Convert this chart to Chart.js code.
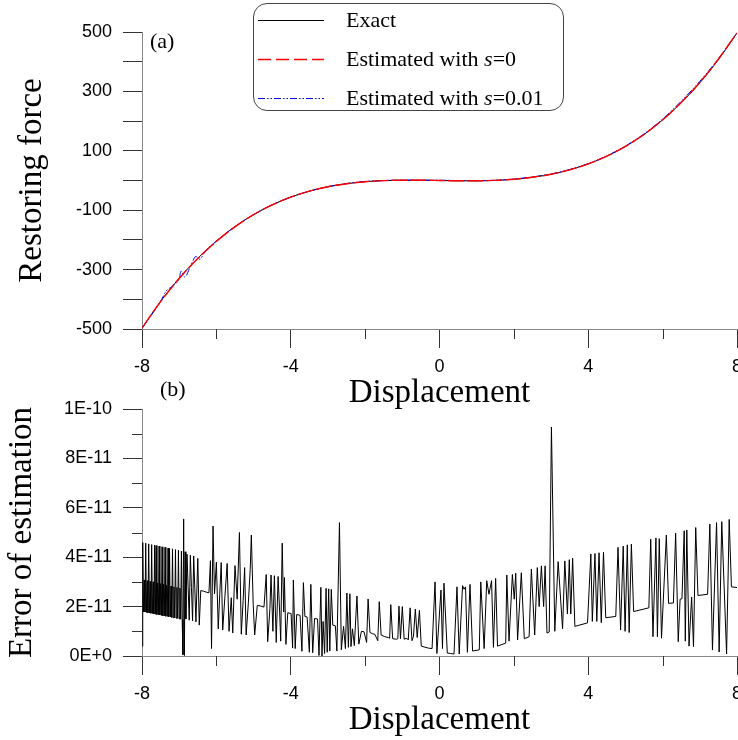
<!DOCTYPE html>
<html>
<head>
<meta charset="utf-8">
<script src="https://cdn.jsdelivr.net/npm/chart.js@4.4.1/dist/chart.umd.min.js"></script>
<style>
  body { margin: 0; background: #fff; }
  #wrap { position: relative; width: 738px; height: 740px; overflow: hidden; background: #fff; }
  canvas { position: absolute; left: 0; }
  .tag { position: absolute; font-family: "Liberation Serif", serif; font-size: 22px; color: #000; }
  #legend { position: absolute; left: 253px; top: 3px; width: 309px; height: 106px;
            border: 1px solid #444; border-radius: 14px; background: #fff;
            font-family: "Liberation Serif", serif; font-size: 22px; color: #000; }
  .row { position: absolute; left: 0; height: 24px; width: 305px; }
  .row svg { position: absolute; left: 4px; top: 11px; }
  .row span { position: absolute; left: 92px; top: 0; line-height: 24px; white-space: nowrap; }
</style>
</head>
<body>
<div id="wrap">
  <canvas id="forceChart" width="738" height="412" style="top:0"></canvas>
  <canvas id="errorChart" width="738" height="360" style="top:380px"></canvas>
  <div class="tag" style="left:150px;top:28px">(a)</div>
  <div class="tag" style="left:160px;top:376px">(b)</div>
  <div id="legend">
    <div class="row" style="top:4px">
      <svg width="66" height="3"><line x1="0" y1="1.5" x2="66" y2="1.5" stroke="#000" stroke-width="1"/></svg>
      <span>Exact</span>
    </div>
    <div class="row" style="top:43px">
      <svg width="66" height="3"><line x1="0" y1="1.5" x2="66" y2="1.5" stroke="#ff0000" stroke-width="1.3" stroke-dasharray="13 5"/></svg>
      <span>Estimated with <i>s</i>=0</span>
    </div>
    <div class="row" style="top:82px">
      <svg width="66" height="3"><line x1="0" y1="1.5" x2="66" y2="1.5" stroke="#0000ff" stroke-width="1" stroke-dasharray="7 2 1.5 2 1.5 2"/></svg>
      <span>Estimated with <i>s</i>=0.01</span>
    </div>
  </div>
</div>
<script>
// panel (a): restoring force vs displacement
const dispX = [-8, -7.5, -7, -6.5, -6, -5.5, -5, -4.5, -4, -3.5, -3, -2.5, -2, -1.5, -1, -0.5,
               0, 0.5, 1, 1.5, 2, 2.5, 3, 3.5, 4, 4.5, 5, 5.5, 6, 6.5, 7, 7.5, 8]
const exactForce = [-497, -407, -329, -262, -204, -155, -115, -82, -56, -36, -21, -11, -4, -0.4, 1, 1,
                    0, -1, -1, 0.4, 4, 11, 21, 36, 56, 82, 115, 155, 204, 262, 329, 407, 497]
const estForceS0 = [-497, -408, -330, -263, -205, -156, -115, -82, -56, -36, -21, -11, -4, -0.5, 1, 1,
                    0, -1, -1, 0.5, 4, 11, 21, 36, 56, 82, 115, 155, 204, 263, 330, 409, 497]
const estX001 = [-8, -7.5, -7.35, -7.2, -7, -6.95, -6.85, -6.7, -6.55, -6.45, -6.3, -6, -5.5, -5, -4.5,
                 -4, -3.5, -3, -2.5, -2, -1.5, -1, -0.5, 0, 0.5, 1, 1.5, 2, 2.5, 3, 3.5, 4, 4.5, 5,
                 5.5, 6, 6.5, 7, 7.5, 8]
const estForceS001 = [-497, -407, -372, -357, -330, -305, -325, -290, -256, -265, -238, -204, -155, -115, -82,
                      -56, -36, -21, -10, -3, 0, 1, 1, 1, 0, -1, 1, 5, 12, 22, 37, 57, 83, 116,
                      157, 207, 267, 334, 410, 497]
const forceTicksMinorX = [-6, -2, 2, 6]

// panel (b): error of estimation, values in units of 1E-11
const errX = [
  -8.00, -7.98, -7.96, -7.94, -7.92, -7.90, -7.88, -7.86, -7.84, -7.82,
  -7.80, -7.78, -7.76, -7.74, -7.72, -7.70, -7.68, -7.66, -7.64, -7.62,
  -7.60, -7.58, -7.56, -7.54, -7.52, -7.50, -7.48, -7.46, -7.44, -7.42,
  -7.40, -7.38, -7.36, -7.34, -7.32, -7.30, -7.28, -7.26, -7.24, -7.22,
  -7.20, -7.18, -7.16, -7.14, -7.12, -7.10, -7.08, -7.06, -7.04, -7.02,
  -7.00, -6.98, -6.96, -6.94, -6.92, -6.90, -6.88, -6.86, -6.84, -6.82,
  -6.79, -6.76, -6.73, -6.70, -6.67, -6.64, -6.61, -6.58,
  -6.55, -6.50, -6.46, -6.42, -6.34, -6.26, -6.20, -6.16, -6.13, -6.09,
  -6.05, -6.00, -5.95, -5.91, -5.87, -5.83, -5.77, -5.71, -5.66, -5.60,
  -5.56, -5.50, -5.44, -5.38, -5.33, -5.28, -5.24, -5.20, -5.14, -5.09,
  -5.06, -5.01, -4.97, -4.90, -4.80, -4.72, -4.66, -4.62, -4.56, -4.53,
  -4.48, -4.44, -4.39, -4.34, -4.30, -4.27, -4.23, -4.19, -4.17, -4.13,
  -4.08, -3.99, -3.95, -3.93, -3.88, -3.84, -3.75, -3.70, -3.66, -3.62,
  -3.56, -3.50, -3.46, -3.41, -3.36, -3.28, -3.24, -3.19, -3.16, -3.13,
  -3.09, -3.05, -3.02, -2.98, -2.95, -2.91, -2.87, -2.80, -2.76, -2.69,
  -2.64, -2.58, -2.53, -2.49, -2.45, -2.41, -2.38, -2.34, -2.29, -2.22,
  -2.17, -2.10, -2.03, -1.96, -1.92, -1.87, -1.80, -1.74, -1.66, -1.62,
  -1.57, -1.47, -1.38, -1.34, -1.31, -1.26, -1.16, -1.12, -1.09, -1.05,
  -1.00, -0.95, -0.88, -0.84, -0.79, -0.74, -0.70, -0.65, -0.60, -0.54,
  -0.49, -0.30, -0.20, -0.12, -0.07, 0.04, 0.08, 0.12, 0.21, 0.30,
  0.39, 0.47, 0.53, 0.62, 0.66, 0.70, 0.75, 0.82, 0.89, 1.07,
  1.11, 1.20, 1.27, 1.33, 1.40, 1.45, 1.51, 1.56, 1.78, 1.81,
  1.87, 1.96, 2.01, 2.05, 2.10, 2.20, 2.28, 2.41, 2.47, 2.56,
  2.63, 2.68, 2.74, 2.80, 2.84, 2.89, 2.95, 3.01, 3.10, 3.19,
  3.31, 3.37, 3.44, 3.49, 3.53, 3.58, 3.64, 3.98, 4.07, 4.11,
  4.18, 4.23, 4.29, 4.35, 4.41, 4.47, 4.74, 4.80, 4.87, 4.94,
  4.99, 5.05, 5.10, 5.16, 5.22, 5.63, 5.68, 5.74, 5.82, 5.86,
  5.91, 5.97, 6.10, 6.16, 6.29, 6.35, 6.42, 6.47, 6.52, 6.58,
  6.61, 6.65, 6.71, 6.78, 6.83, 6.89, 6.95, 7.21, 7.27, 7.34,
  7.45, 7.52, 7.59, 7.72, 7.79, 7.85, 8.00
]
const errE11 = [
  0.40, 4.59, 1.79, 3.08, 1.78, 4.57, 1.76, 3.05, 1.75, 4.54,
  1.74, 3.02, 1.73, 4.51, 1.72, 3.00, 1.70, 4.49, 1.69, 4.47,
  1.68, 2.96, 1.67, 4.45, 1.66, 2.93, 1.64, 4.42, 1.63, 2.90,
  1.62, 4.40, 1.61, 2.87, 1.60, 4.37, 1.59, 4.36, 1.58, 2.83,
  1.56, 4.34, 1.55, 2.80, 1.54, 4.31, 1.53, 2.78, 1.52, 4.28,
  1.50, 2.75, 1.49, 4.25, 1.48, 0.05, 5.55, 0.02, 4.22, 1.50,
  4.12, 2.80, 1.45, 4.08, 2.77, 1.42, 4.05, 2.74,
  1.38, 3.95, 1.25, 2.65, 2.62, 2.58, 2.56, 3.86, 0.30, 5.26,
  2.52, 3.80, 1.10, 2.48, 3.78, 1.05, 2.42, 3.75, 1.00, 2.36,
  0.93, 3.66, 2.30, 5.00, 0.88, 2.25, 3.58, 0.85, 2.15, 3.50,
  4.90, 2.10, 0.85, 2.05, 2.02, 1.98, 3.30, 0.58, 1.93, 3.28,
  1.00, 3.25, 0.55, 3.22, 1.82, 0.60, 4.57, 1.78, 3.18, 0.47,
  1.75, 1.72, 0.32, 3.08, 0.30, 1.68, 1.65, 0.19, 2.97, 1.60,
  1.58, 0.15, 2.90, 0.13, 1.52, 1.50, 0.02, 2.78, 0.00, 1.40,
  0.10, 2.74, 0.15, 2.72, 0.20, 2.70, 1.25, 1.22, 0.20, 5.40,
  0.25, 1.20, 0.30, 2.55, 0.35, 2.52, 0.38, 1.10, 0.42, 2.43,
  0.48, 1.00, 0.98, 0.55, 2.31, 0.95, 0.90, 0.88, 0.62, 2.20,
  0.85, 0.78, 0.75, 0.72, 2.08, 0.70, 0.68, 0.70, 2.02, 0.70,
  2.00, 0.68, 0.72, 0.65, 1.95, 0.62, 0.80, 1.90, 0.75, 1.85,
  0.40, 0.32, 0.30, 3.00, 0.10, 2.67, 0.30, 2.95, 0.12, 0.10,
  0.08, 2.80, 0.08, 2.85, 2.70, 2.80, 0.15, 2.90, 0.20, 0.25,
  3.00, 0.30, 3.05, 2.50, 3.05, 0.35, 3.14, 0.40, 0.52, 3.28,
  0.60, 3.30, 2.30, 3.35, 0.65, 3.37, 0.70, 0.78, 3.52, 0.85,
  3.58, 2.00, 3.65, 2.00, 3.65, 0.93, 0.97, 9.27, 1.00, 3.82,
  1.10, 3.85, 1.70, 3.90, 1.70, 3.96, 1.20, 1.34, 4.13, 1.40,
  4.15, 1.40, 4.18, 1.35, 4.20, 1.55, 1.60, 4.40, 1.05, 4.45,
  1.00, 4.50, 0.95, 4.53, 1.80, 1.95, 4.73, 0.78, 4.78, 0.78,
  4.75, 0.72, 4.90, 2.13, 2.15, 4.97, 0.58, 2.30, 2.32, 5.07,
  0.60, 5.10, 0.40, 2.39, 0.38, 5.20, 2.45, 2.50, 5.34, 0.24,
  5.40, 0.16, 5.44, 0.08, 5.53, 2.80, 2.77
]
const errTicksMinorX = [-6, -2, 2, 6]
const errTicksMinorY = [1, 3, 5, 7, 9]

const tickFont = { family: "'Liberation Sans', Arial, sans-serif", size: 18 }
const titleFont = { family: "'Liberation Serif', 'Times New Roman', serif", size: 33, lineHeight: 1 }
const axisColor = '#888'
const tickColor = '#333'

// short minor ticks drawn through the chart's own scales
const minorTicks = {
  id: 'minorTicks',
  afterDraw(chart, args, opts) {
    const ctx = chart.ctx
    const xs = chart.scales.x, ys = chart.scales.y
    ctx.save()
    ctx.strokeStyle = tickColor
    ctx.lineWidth = 1
    ctx.beginPath()
    ;(opts.x || []).forEach(v => {
      const px = Math.round(xs.getPixelForValue(v)) + 0.5
      ctx.moveTo(px, xs.top)
      ctx.lineTo(px, xs.top + opts.xLen)
    })
    ;(opts.y || []).forEach(v => {
      const py = Math.round(ys.getPixelForValue(v)) + 0.5
      ctx.moveTo(ys.right, py)
      ctx.lineTo(ys.right - opts.yLen, py)
    })
    ctx.stroke()
    ctx.restore()
  }
}

function xAxis(boxHeight, titlePad) {
  return {
    type: 'linear', min: -8, max: 8,
    ticks: { stepSize: 4, color: '#000', font: tickFont, padding: 8, maxRotation: 0, autoSkip: false },
    grid: { drawOnChartArea: false, tickLength: 19, color: tickColor },
    border: { color: axisColor },
    title: { display: true, text: 'Displacement', color: '#000', font: titleFont, padding: { top: 0, bottom: titlePad } },
    afterFit: s => { s.height = boxHeight; s.paddingLeft = 0; s.paddingRight = 0 }
  }
}

function yAxis(title, titlePad) {
  return {
    ticks: { color: '#000', font: tickFont, padding: 11, autoSkip: false },
    grid: { drawOnChartArea: false, tickLength: 19, color: tickColor },
    border: { color: axisColor },
    title: { display: true, text: title, color: '#000', font: titleFont, padding: { top: titlePad, bottom: 0 } },
    afterFit: s => { s.width = 142; s.paddingTop = 0; s.paddingBottom = 0 }
  }
}

const forceY = yAxis('Restoring force', 16)
forceY.min = -500
forceY.max = 500
forceY.ticks.stepSize = 100
forceY.ticks.callback = v => Math.abs(v) % 200 === 100 ? String(v) : ''

new Chart(document.getElementById('forceChart'), {
  type: 'line',
  data: {
    datasets: [
      { label: 'Exact', data: dispX.map((x, i) => ({ x: x, y: exactForce[i] })),
        borderColor: '#000', order: 2 },
      { label: 'Estimated with s=0', data: dispX.map((x, i) => ({ x: x, y: estForceS0[i] })),
        borderColor: '#ff0000', borderWidth: 1.4, borderDash: [16, 3], order: 0 },
      { label: 'Estimated with s=0.01', data: estX001.map((x, i) => ({ x: x, y: estForceS001[i] })),
        borderColor: '#0000ff', borderDash: [7, 2, 1.5, 2, 1.5, 2], order: 1 }
    ]
  },
  options: {
    responsive: false, animation: false, devicePixelRatio: 1,
    layout: { padding: { top: 32, right: 1, left: 0, bottom: 0 } },
    elements: { point: { radius: 0 }, line: { borderWidth: 1, cubicInterpolationMode: 'monotone', fill: false } },
    plugins: { legend: { display: false }, tooltip: { enabled: false },
               minorTicks: { x: forceTicksMinorX, xLen: 10, y: [], yLen: 0 } },
    scales: { x: xAxis(83, 2.5), y: forceY }
  },
  plugins: [minorTicks]
})

const errY = yAxis('Error of estimation', 6)
errY.min = 0
errY.max = 10
errY.ticks.stepSize = 2
errY.ticks.callback = v => v === 10 ? '1E-10' : (v === 0 ? '0E+0' : v + 'E-11')

new Chart(document.getElementById('errorChart'), {
  type: 'line',
  data: {
    datasets: [
      { label: 'Error', data: errX.map((x, i) => ({ x: x, y: errE11[i] })), borderColor: '#000' }
    ]
  },
  options: {
    responsive: false, animation: false, devicePixelRatio: 1,
    layout: { padding: { top: 29, right: 1, left: 0, bottom: 0 } },
    elements: { point: { radius: 0 }, line: { borderWidth: 1, tension: 0, fill: false } },
    plugins: { legend: { display: false }, tooltip: { enabled: false },
               minorTicks: { x: errTicksMinorX, xLen: 10, y: errTicksMinorY, yLen: 10 } },
    scales: { x: xAxis(84, 3.5), y: errY }
  },
  plugins: [minorTicks]
})
</script>
</body>
</html>
